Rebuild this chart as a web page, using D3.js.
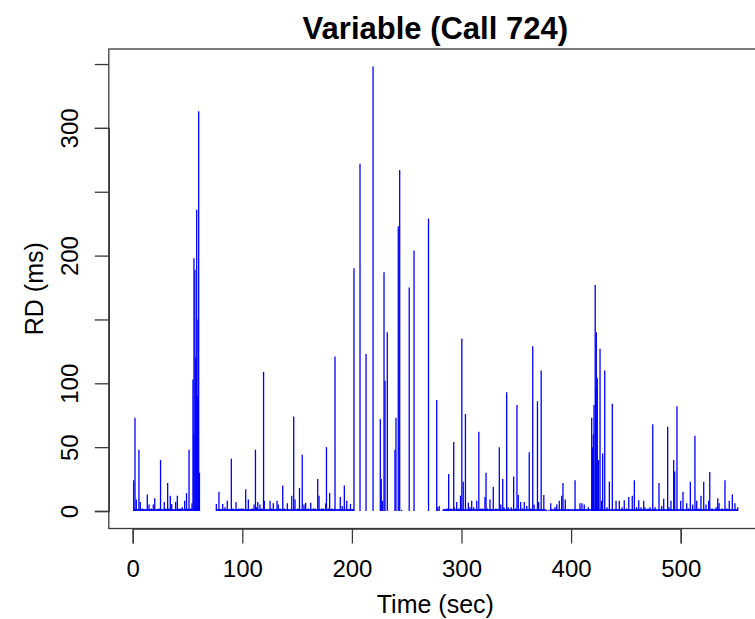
<!DOCTYPE html>
<html>
<head>
<meta charset="utf-8">
<script src="https://cdn.jsdelivr.net/npm/d3@7"></script>
<style>
  body { margin: 0; background: #fff; }
  text { font-family: "Liberation Sans", Arial, sans-serif; fill: #000; }
</style>
</head>
<body>
<svg id="main"></svg>
<script>
//--------data----------
// time (sec) of each call event
const times = [
  0.9, 2.1, 3.3, 5.7, 6.9, 8.8, 10.3, 13.3, 14.9, 17.0, 18.8, 20.1, 22.4, 24.0, 25.4, 27.0,
  28.8, 30.1, 31.9, 33.1, 34.3, 35.6, 37.7, 39.2, 40.7, 42.2, 44.1, 45.3, 47.4, 49.1, 50.5,
  51.4, 52.9, 54.1, 55.0, 55.7, 55.9, 56.8, 57.5, 58.4, 58.9, 59.6, 60.2, 60.9,
  76.3, 78.7, 80.3, 82.1, 84.2, 86.3, 87.9, 90.0, 91.5, 94.3, 95.4, 97.0, 98.8, 100.9,
  103.1, 105.5, 107.7, 109.1, 110.7, 112.0, 113.1, 114.1, 116.1, 117.7, 119.4, 120.1,
  122.3, 125.3, 126.8, 128.3, 129.8, 131.7, 132.8, 134.4, 136.9, 138.3, 141.1, 142.6,
  145.1, 146.9, 148.1, 150.5, 152.2,
  154.7, 156.3, 157.8, 160.2, 162.4, 164.8, 166.3, 168.8, 170.0, 172.4, 173.9, 176.1,
  176.8, 178.5, 179.7, 181.6, 184.6, 187.0, 189.4, 191.2, 193.1, 195.3, 196.7, 198.7,
  200.7, 201.9,
  207.4, 212.9, 219.3, 225.9, 226.8, 227.9, 229.3, 230.2, 232.3, 239.3, 240.2, 242.3,
  243.6, 245.4, 252.3, 256.7, 269.9, 277.4, 278.3, 279.7,
  283.4, 285.4, 286.8, 288.3, 290.4, 292.9, 293.4, 295.6, 297.3, 299.1, 300.3, 301.6,
  303.6, 306.2, 307.7, 309.3, 311.1, 313.9, 315.8, 317.5, 319.3, 321.4, 322.4, 323.5,
  326.0, 327.6, 329.0, 331.5, 334.5, 335.8, 337.6, 338.8, 341.2, 342.7, 345.4, 347.6,
  349.3, 350.6, 351.8, 354.0, 355.7, 357.3, 359.5, 361.8, 363.4, 365.0, 366.2, 369.3,
  370.4, 372.7, 375.1, 377.7, 379.8,
  381.4, 385.3, 386.9, 389.2, 391.4, 392.6, 394.7, 398.1, 403.6, 406.0, 408.1, 409.9,
  412.0, 415.7, 418.8, 419.7, 420.3, 420.9, 422.0, 422.5, 423.0, 423.9, 425.0, 426.4,
  427.8, 428.8, 430.7, 432.8, 434.9, 437.6, 441.0, 444.0, 446.5, 448.5, 450.5, 452.6,
  455.8, 457.7, 459.7, 461.7, 463.8, 466.2, 467.4, 470.2, 472.0, 474.5, 476.6, 480.2,
  482.7, 484.5, 488.1, 489.3, 491.1, 493.6, 494.5, 496.6, 500.0, 502.1, 505.5, 507.1,
  508.8, 510.9, 513.0, 514.6, 516.7, 518.5, 521.0, 523.1, 525.5, 526.5, 528.6, 532.3,
  533.8, 535.0, 537.7, 540.4, 542.2, 544.3, 547.1, 549.5, 552.0
];
// RD (ms) for each event
const rd = [
  24, 73, 9, 48, 7, 2, 1, 13, 5, 2, 5, 10, 1, 2, 40, 1,
  7, 2, 22, 2, 12, 5.5, 1, 7, 12, 2, 2, 3, 8, 14, 2,
  48, 2, 6, 103, 60, 198, 189, 120, 236, 90, 150, 313, 30,
  5.5, 15, 1, 5.5, 3, 8, 1, 41, 2, 7, 1, 2, 2, 2,
  17, 9, 1, 2, 5, 48, 3, 7, 5, 2, 109, 8,
  1, 8, 2, 6, 1, 8, 5, 2, 20, 2, 6, 1,
  12, 74, 9, 2, 18,
  44, 5, 6.5, 2, 6.5, 2, 2, 25, 12, 2, 2, 6,
  50, 2, 14, 2, 121, 1, 11, 4, 20, 8, 1, 5.5,
  1, 190,
  272, 123, 348, 72, 25, 8, 187, 102, 140, 48, 73, 223,
  267, 1, 175, 204, 229, 87, 3, 4,
  1, 1, 2, 29, 2, 54, 3, 7, 2, 12, 135, 23,
  76, 6.5, 3, 8, 3, 8, 62, 2, 2, 11, 30, 2,
  9, 1, 19, 2, 50, 5, 25, 3, 93, 3, 3, 27,
  2, 83, 12.5, 7, 2, 7, 4, 46, 2, 129, 5, 86,
  7, 110, 12.5, 1, 1,
  6, 3, 5, 8, 12, 22, 9, 1, 24, 1, 6, 6,
  5, 3, 73, 50, 60, 83, 177, 95, 140, 104, 40, 127,
  8, 45, 110, 3, 23, 84, 8, 8, 3, 8.5, 2, 11,
  12, 24, 3, 8.5, 3, 8, 3, 2, 3, 68, 3, 22,
  4, 9.5, 66, 3, 8, 40, 31, 82, 8, 15, 6, 2,
  23, 5, 59, 8, 2, 12, 23, 5, 8, 30.5, 2, 3,
  10, 6, 2, 24, 2, 8, 13, 6, 3
];
// stretches of continuous low-level activity [start, end] (sec)
const activeSpans = [[0.5, 61], [76, 202], [283, 377], [381, 552]];

const xTicks = [0, 100, 200, 300, 400, 500];
const yTicks = [0, 50, 100, 150, 200, 250, 300, 350];
const yLabels = [0, 50, 100, 200, 300];

//--------code----------
const width = 755, height = 619;
const svg = d3.select('#main')
  .attr('width', width)
  .attr('height', height)
  .style('background', '#fff');

const sx = d3.scaleLinear().domain([0, 500]).range([132.7, 680.7]);
const sy = d3.scaleLinear().domain([0, 300]).range([511, 127.9]);

// plot region (R style 4% padding)
const pLeft = sx(-21.8), pRight = sx(574), pTop = sy(361.8), pBottom = sy(-13.7);

// low-level activity floor
svg.selectAll('.floor')
  .data(activeSpans)
  .join('rect')
  .attr('class', 'floor')
  .attr('x', d => sx(d[0]))
  .attr('width', d => sx(d[1]) - sx(d[0]))
  .attr('y', sy(1.6))
  .attr('height', sy(0) - sy(1.6))
  .attr('fill', '#0000ff')
  .attr('opacity', 0.85);

// type="h" lines
svg.selectAll('.spike')
  .data(times.map((t, i) => ({t: t, v: rd[i]})))
  .join('line')
  .attr('class', 'spike')
  .attr('x1', d => sx(d.t))
  .attr('x2', d => sx(d.t))
  .attr('y1', sy(0))
  .attr('y2', d => sy(d.v))
  .attr('stroke', '#0000ff')
  .attr('stroke-width', 1.3);

// box
svg.append('rect')
  .attr('x', pLeft).attr('y', pTop)
  .attr('width', pRight - pLeft).attr('height', pBottom - pTop)
  .attr('fill', 'none')
  .attr('stroke', '#3a3a3a')
  .attr('stroke-width', 1.3);

// x axis
const ax = d3.axisBottom(sx).tickValues(xTicks).tickSize(15).tickPadding(16).tickFormat(d3.format('d'));
const gx = svg.append('g')
  .attr('transform', `translate(0,${pBottom})`)
  .call(ax);
gx.select('.domain').attr('stroke', '#3a3a3a').attr('stroke-width', 1.3);
gx.selectAll('.tick line').attr('stroke', '#3a3a3a').attr('stroke-width', 1.3);
gx.selectAll('.tick text')
  .style('font-size', '24px')
  .style('font-family', '"Liberation Sans", Arial, sans-serif')
  .attr('fill', '#111');

// y axis
const ay = d3.axisLeft(sy).tickValues(yTicks).tickSize(14)
  .tickFormat(d => yLabels.includes(d) ? d : '');
const gy = svg.append('g')
  .attr('transform', `translate(${pLeft},0)`)
  .call(ay);
gy.select('.domain').attr('stroke', '#3a3a3a').attr('stroke-width', 1.3);
gy.selectAll('.tick line').attr('stroke', '#3a3a3a').attr('stroke-width', 1.3);
// rotate labels about their own tick
gy.selectAll('.tick text')
  .attr('x', 0)
  .attr('y', -31)
  .attr('dy', 0)
  .attr('transform', 'rotate(-90)')
  .attr('text-anchor', 'middle')
  .style('font-size', '24px')
  .style('font-family', '"Liberation Sans", Arial, sans-serif')
  .attr('fill', '#111');

// titles
svg.append('text')
  .attr('x', (pLeft + pRight) / 2).attr('y', 39)
  .attr('text-anchor', 'middle')
  .style('font-size', '31px').style('font-weight', 'bold')
  .text('Variable (Call 724)');

svg.append('text')
  .attr('x', (pLeft + pRight) / 2).attr('y', 613)
  .attr('text-anchor', 'middle')
  .style('font-size', '25px')
  .text('Time (sec)');

svg.append('text')
  .attr('transform', `translate(43,${(pTop + pBottom) / 2}) rotate(-90)`)
  .attr('text-anchor', 'middle')
  .style('font-size', '25px')
  .text('RD (ms)');
</script>
</body>
</html>
